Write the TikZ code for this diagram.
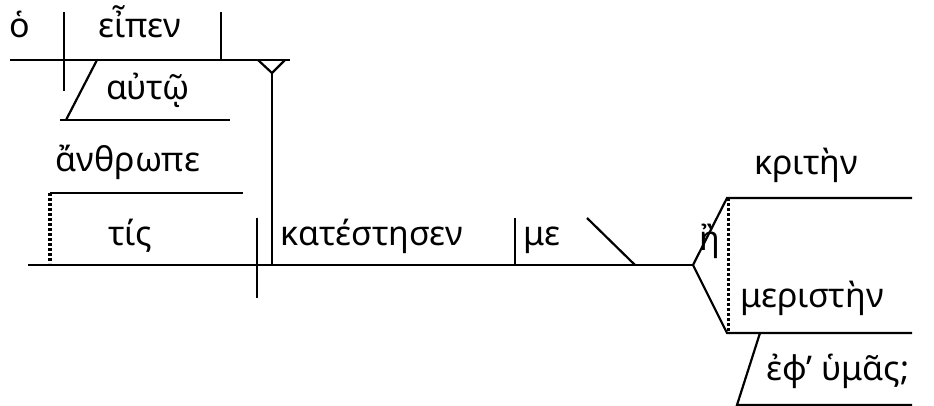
\documentclass[tikz,border=0pt]{standalone}
\usepackage{fontspec}
\setmainfont{Noto Sans}
\begin{document}
\begin{tikzpicture}[
    x=1pt, y=-1pt,
    word/.style={inner sep=0pt, anchor=base, font=\fontsize{34}{36}\selectfont},
    rule/.style={line width=2.2pt},
    dots/.style={line width=3.4pt, dash pattern=on 3pt off 2pt}
    ]
    \useasboundingbox (0,0) rectangle (934,406);
    % top clause
    \node[word] (ho) at (20,38) {ὁ};
    \node[word] (eipen) at (140,38) {εἶπεν};
    \node[word] (auto) at (148,100) {αὐτῷ};
    \coordinate (tl) at (10,60);
    \coordinate (tr) at (290,60);
    \coordinate (sv1t) at (64,12);
    \coordinate (sv1b) at (64,91);
    \coordinate (do1t) at (221,12);
    \coordinate (do1b) at (221,60);
    \coordinate (yl) at (258,60);
    \coordinate (yr) at (285,60);
    \coordinate (yc) at (272,73);
    \coordinate (yb) at (272,265);
    \coordinate (a1) at (97,60);
    \coordinate (a2) at (66,120);
    \coordinate (a3) at (60,120);
    \coordinate (a4) at (230,120);
    \draw[rule] (tl) -- (tr);
    \draw[rule] (sv1t) -- (sv1b);
    \draw[rule] (do1t) -- (do1b);
    \draw[rule] (yl) -- (yc) -- (yr);
    \draw[rule] (yc) -- (yb);
    \draw[rule] (a1) -- (a2);
    \draw[rule] (a3) -- (a4);
    % vocative
    \node[word] (anthr) at (128,172) {ἄνθρωπε};
    \coordinate (v1) at (50,193);
    \coordinate (v2) at (243,193);
    \coordinate (v3) at (50,263);
    \draw[rule] (v1) -- (v2);
    \draw[dots] (v1) -- (v3);
    % main clause
    \node[word] (tis) at (130,245) {τίς};
    \node[word] (katest) at (372,245) {κατέστησεν};
    \node[word] (me) at (542,245) {με};
    \node[word] (he) at (710,250) {ἢ};
    \node[word] (krit) at (806,175) {κριτὴν};
    \node[word] (merist) at (812,307) {μεριστὴν};
    \node[word] (eph) at (838,380) {ἐφ’ ὑμᾶς;};
    \coordinate (ml) at (28,265);
    \coordinate (fork) at (693,265);
    \coordinate (sv2t) at (257,218);
    \coordinate (sv2b) at (257,298);
    \coordinate (do2t) at (515,218);
    \coordinate (do2b) at (515,265);
    \coordinate (pc1) at (587,218);
    \coordinate (pc2) at (635,265);
    \coordinate (up1) at (727,198);
    \coordinate (up2) at (912,198);
    \coordinate (lo1) at (727,333);
    \coordinate (lo2) at (912,333);
    \coordinate (e1) at (760,333);
    \coordinate (e2) at (737,405);
    \coordinate (e3) at (912,405);
    \draw[rule] (ml) -- (fork);
    \draw[rule] (sv2t) -- (sv2b);
    \draw[rule] (do2t) -- (do2b);
    \draw[rule] (pc1) -- (pc2);
    \draw[rule] (fork) -- (up1) -- (up2);
    \draw[rule] (fork) -- (lo1) -- (lo2);
    \draw[dots] ([xshift=1.5pt]up1) -- ([xshift=1.5pt]lo1);
    \draw[rule] (e1) -- (e2) -- (e3);
\end{tikzpicture}
\end{document}
